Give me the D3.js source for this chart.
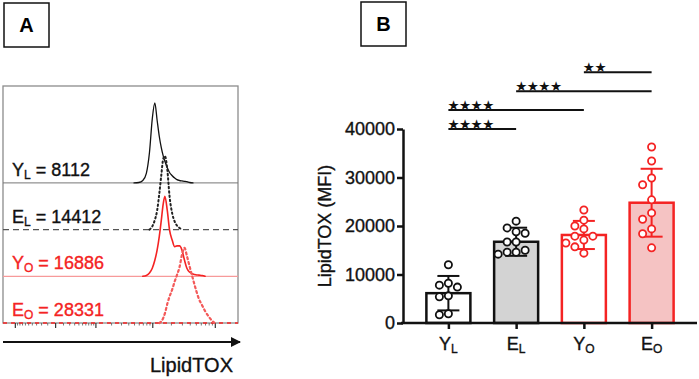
<!DOCTYPE html>
<html>
<head>
<meta charset="utf-8">
<script src="https://cdn.jsdelivr.net/npm/d3@7"></script>
<style>
  body { margin: 0; background: #fff; }
  svg { display: block; font-family: "Liberation Sans", Arial, sans-serif; }
  svg text.w { stroke: currentColor; stroke-width: 0.35px; }
</style>
</head>
<body>
<svg id="chart"></svg>
<script>
const svg = d3.select('#chart');
const width = 699;
const height = 379;
const red = "#f42323";

//// data, panel A (histograms, % of mode per LipidTOX bin)
const samples = [
  { main: "Y", sub: "L", mfi: 8112 },
  { main: "E", sub: "L", mfi: 14412 },
  { main: "Y", sub: "O", mfi: 16886 },
  { main: "E", sub: "O", mfi: 28331 }
];
const bins = [4000, 5000, 6000, 7000, 8000, 9000, 10000, 11000, 12000, 13000, 14000, 15000,
  16000, 17500, 19000, 21000, 23000, 25000, 27500, 30000, 33000, 36000, 40000, 45000,
  50000, 56000, 63000, 70000, 80000, 90000, 100000];
const countYL = [0, 0, 0.5, 3, 12, 38, 80, 100, 78, 58, 44, 34, 27, 19, 13, 9, 6, 4, 3, 2.5, 2, 1.5, 0.5, 0, 0, 0, 0, 0, 0, 0, 0];
const countEL = [0, 0, 0, 0, 0, 0, 4, 12, 24, 45, 68, 88, 92, 75, 42, 20, 10, 5, 2, 0, 0, 0, 0, 0, 0, 0, 0, 0, 0, 0, 0];
const countYO = [0, 0, 0, 0, 1, 4, 10, 20, 33, 50, 70, 90, 100, 82, 58, 45, 37, 38, 38, 33, 20, 10, 5, 3, 2, 1.5, 1, 0, 0, 0, 0];
const countEO = [0, 0, 0, 0, 0, 0, 0, 0, 0, 0, 2, 6, 12, 24, 33, 42, 52, 60, 70, 85, 94, 84, 70, 55, 42, 30, 22, 15, 8, 3, 0];
const counts = [countYL, countEL, countYO, countEO];
const histMajor = [-1000, 0, 1000, 10000, 100000];

//// data, panel B (MFI)
const groups = ["YL", "EL", "YO", "EO"];
const means = [6150, 16750, 18150, 24800];
const sds = [3550, 2900, 2900, 7000];
const ptsYL = [12000, 8200, 7800, 7400, 5600, 5400, 1900, 1700];
const ptsEL = [21000, 19600, 18800, 18500, 16700, 16700, 15000, 14600, 14600, 14200];
const ptsYO = [23300, 21200, 20000, 19400, 17900, 17900, 17100, 16500, 15700, 14400];
const ptsEO = [36300, 33400, 29900, 28500, 25400, 22700, 21400, 19400, 18400, 15500];
const points = [ptsYL, ptsEL, ptsYO, ptsEO];
const yTicks = [0, 10000, 20000, 30000, 40000];
const comparisons = [
  { a: "YL", b: "EL", label: "★★★★" },
  { a: "YL", b: "YO", label: "★★★★" },
  { a: "EL", b: "EO", label: "★★★★" },
  { a: "YO", b: "EO", label: "★★" }
];

const groupStyle = [
  { stroke: "#111", fill: "#fff" },
  { stroke: "#111", fill: "#d3d3d3" },
  { stroke: red, fill: "#fff" },
  { stroke: red, fill: "#f5c3c3" }
];

svg.attr("width", width).attr("height", height);
svg.append("rect").attr("width", width).attr("height", height).attr("fill", "#fff");

const panelLabel = (x, y, txt) => {
  svg.append("rect").attr("x", x).attr("y", y).attr("width", 45).attr("height", 44)
    .attr("fill", "none").attr("stroke", "#111").attr("stroke-width", 1.5);
  svg.append("text").attr("x", x + 22.5).attr("y", y + 29).attr("text-anchor", "middle")
    .attr("font-size", 20).attr("font-weight", "bold").text(txt);
};
panelLabel(4, 3, "A");
panelLabel(361, 2, "B");

const labelText = (sel, d, big, small) => {
  sel.append("tspan").text(d.main);
  sel.append("tspan").attr("font-size", small).attr("dy", 3).text(d.sub);
  return sel;
};

////Panel A
const boxL = 3, boxR = 238, boxT = 86, boxB = 323;
const trackGap = 46.7;
const xH = d3.scaleSymlog().constant(300).domain([-1700, 233000]).range([boxL, boxR]);
const hH = d3.scaleLinear().domain([0, 100]).range([0, 80]);
const base = (i) => boxB - (samples.length - 1 - i) * trackGap;

svg.append("rect").attr("x", boxL).attr("y", boxT).attr("width", boxR - boxL).attr("height", boxB - boxT)
  .attr("fill", "none").attr("stroke", "#8c8c8c").attr("stroke-width", 1.3);

const histAxis = d3.axisBottom(xH).tickValues(histMajor).tickSize(5).tickFormat("");
const gH = svg.append("g").attr("transform", `translate(0,${boxB})`).call(histAxis);
gH.select(".domain").remove();
gH.selectAll("line").attr("stroke", "#333").attr("stroke-width", 1.2);
const minor = [].concat(
  d3.range(-900, 0, 100), d3.range(100, 1000, 100),
  d3.range(2000, 10000, 1000), d3.range(20000, 100000, 10000));
svg.append("g").attr("transform", `translate(0,${boxB})`)
  .call(d3.axisBottom(xH).tickValues(minor).tickSize(2.5).tickFormat(""))
  .call(g => g.select(".domain").remove())
  .selectAll("line").attr("stroke", "#555").attr("stroke-width", 0.8);

const histStyle = [
  { base: "#777", baseW: 1, baseDash: null, curve: "#111", curveW: 1.3, curveDash: null },
  { base: "#555", baseW: 1.3, baseDash: "6,4", curve: "#222", curveW: 2, curveDash: "1.5,2.8" },
  { base: "#f79a9a", baseW: 1.3, baseDash: null, curve: red, curveW: 1.6, curveDash: null },
  { base: red, baseW: 1.5, baseDash: "4,4", curve: "#f35a5a", curveW: 2.2, curveDash: "2,3" }
];

samples.forEach((s, i) => {
  const st = histStyle[i];
  const b = base(i);
  svg.append("line").attr("x1", boxL).attr("x2", boxR).attr("y1", b).attr("y2", b)
    .attr("stroke", st.base).attr("stroke-width", st.baseW).attr("stroke-dasharray", st.baseDash);
  const data = bins.map((v, k) => [v, counts[i][k]]);
  const first = data.findIndex(d => d[1] > 0) - 1;
  let last = data.length - 1;
  while (last > 0 && data[last - 1][1] === 0) last--;
  const seg = data.slice(Math.max(0, first), last + 1);
  const line = d3.line().x(d => xH(d[0])).y(d => b - hH(d[1])).curve(d3.curveMonotoneX);
  svg.append("path").attr("d", line(seg)).attr("fill", "none")
    .attr("stroke", st.curve).attr("stroke-width", st.curveW)
    .attr("stroke-dasharray", st.curveDash).attr("stroke-linecap", "round");

  const t = svg.append("text").attr("class", "w").attr("x", 12).attr("y", b - 7).attr("font-size", 18)
    .attr("fill", i < 2 ? "#111" : red).style("color", i < 2 ? "#111" : red);
  labelText(t, s, 18, 12);
  t.append("tspan").attr("dy", -3).text(" = " + s.mfi);
});

// arrow + title
svg.append("defs").append("marker").attr("id", "arr").attr("viewBox", "0 0 10 10")
  .attr("refX", 9).attr("refY", 5).attr("markerWidth", 5).attr("markerHeight", 5)
  .attr("orient", "auto").append("path").attr("d", "M0,0L10,5L0,10z").attr("fill", "#111");
svg.append("line").attr("x1", boxL).attr("x2", 240).attr("y1", 342).attr("y2", 342)
  .attr("stroke", "#111").attr("stroke-width", 2).attr("marker-end", "url(#arr)");
svg.append("text").attr("class", "w").attr("x", 233).attr("y", 372).attr("text-anchor", "end")
  .attr("font-size", 20).attr("fill", "#111").style("color", "#111").text("LipidTOX");

////Panel B
const axL = 403, axR = 697, y0 = 323, y40 = 129;
const y = d3.scaleLinear().domain([0, 40000]).range([y0, y40]);
const x = d3.scalePoint().domain(groups).range([axL, axR]).padding(0.67);
const barW = 44;

svg.append("g").attr("transform", `translate(${axL},0)`)
  .call(d3.axisLeft(y).tickValues(yTicks).tickFormat(d3.format("d")).tickSize(6).tickPadding(2).tickSizeOuter(0))
  .call(g => g.selectAll("text").attr("class", "w").attr("font-size", 18).attr("fill", "#111")
    .style("color", "#111").attr("font-family", "Liberation Sans, Arial, sans-serif"))
  .call(g => g.selectAll("line, .domain").attr("stroke", "#111").attr("stroke-width", 2.5));

svg.append("text").attr("class", "w").attr("transform", `translate(325,${(y0 + y40) / 2}) rotate(-90)`)
  .attr("text-anchor", "middle").attr("dy", "0.35em").attr("font-size", 18).attr("fill", "#111")
  .style("color", "#111").text("LipidTOX (MFI)");

svg.selectAll(".bar").data(groups).enter().append("rect").attr("class", "bar")
  .attr("x", d => x(d) - barW / 2).attr("width", barW)
  .attr("y", (d, i) => y(means[i])).attr("height", (d, i) => y0 - y(means[i]))
  .attr("fill", (d, i) => groupStyle[i].fill).attr("stroke", (d, i) => groupStyle[i].stroke)
  .attr("stroke-width", 2.5);

// x axis
svg.append("g").attr("transform", `translate(0,${y0})`)
  .call(d3.axisBottom(x).tickSize(6).tickSizeOuter(0).tickFormat(""))
  .call(g => g.select(".domain").attr("d", `M${axL - 2},0H${axR}`))
  .call(g => g.selectAll("line, .domain").attr("stroke", "#111").attr("stroke-width", 2.5));

groups.forEach((g, i) => {
  const t = svg.append("text").attr("class", "w").attr("x", x(g)).attr("y", 350).attr("text-anchor", "middle")
    .attr("font-size", 18).attr("fill", "#111").style("color", "#111");
  labelText(t, samples[i], 18, 12);
});

// error bars
groups.forEach((g, i) => {
  const cx = x(g);
  const st = groupStyle[i];
  const e = svg.append("g").attr("stroke", st.stroke).attr("stroke-width", 2);
  e.append("line").attr("x1", cx).attr("x2", cx).attr("y1", y(means[i] - sds[i])).attr("y2", y(means[i] + sds[i]));
  [means[i] - sds[i], means[i] + sds[i]].forEach(v => {
    e.append("line").attr("x1", cx - 11).attr("x2", cx + 11).attr("y1", y(v)).attr("y2", y(v));
  });
});

// scatter points, simple swarm
const step = 9, minDist = 8.5;
groups.forEach((g, i) => {
  const cx = x(g);
  const placed = [];
  points[i].forEach(v => {
    const py = y(v);
    for (let k = 0; k < 20; k++) {
      const off = k === 0 ? 0 : (k % 2 ? -1 : 1) * Math.ceil(k / 2) * step;
      const px = cx + off;
      if (placed.every(p => Math.hypot(p.x - px, p.y - py) >= minDist)) {
        placed.push({ x: px, y: py });
        break;
      }
    }
  });
  svg.append("g").selectAll("circle").data(placed).enter().append("circle")
    .attr("cx", d => d.x).attr("cy", d => d.y).attr("r", 3.6)
    .attr("fill", "#fff").attr("stroke", groupStyle[i].stroke).attr("stroke-width", 1.8);
});

// significance
comparisons.forEach((c, i) => {
  const yy = y(40000 + i * 3900);
  svg.append("line").attr("x1", x(c.a)).attr("x2", x(c.b)).attr("y1", yy).attr("y2", yy)
    .attr("stroke", "#111").attr("stroke-width", 2);
  svg.append("text").attr("x", x(c.a) - 1).attr("y", yy - 0.5).attr("font-size", 13.5)
    .attr("font-weight", "bold").attr("letter-spacing", -0.5)
    .attr("font-family", "DejaVu Sans").attr("fill", "#111").text(c.label);
});
</script>
</body>
</html>
